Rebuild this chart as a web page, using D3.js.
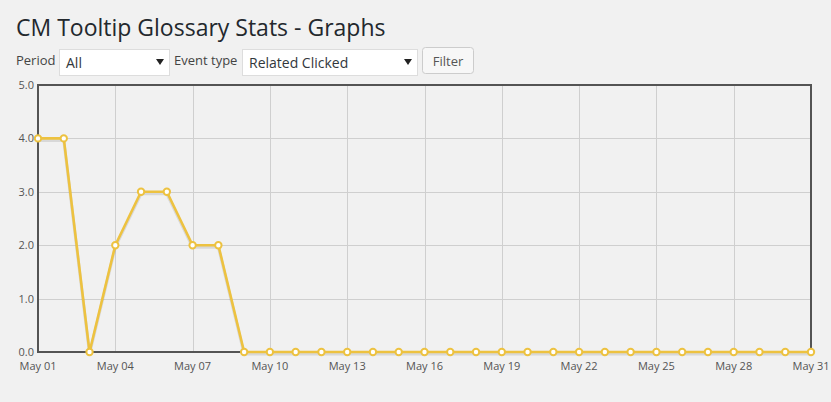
<!DOCTYPE html>
<html><head><meta charset="utf-8">
<script src="https://cdn.jsdelivr.net/npm/d3@7"></script>
<style>
html,body{margin:0;padding:0;background:#f1f1f1;}
svg{display:block;font-family:"Open Sans",sans-serif;}
</style></head>
<body><svg id="c" width="831" height="402"></svg>
<script>
const days = d3.range(1, 32);
const values = [4,4,0,2,3,3,2,2,0,0,0,0,0,0,0,0,0,0,0,0,0,0,0,0,0,0,0,0,0,0,0];
const yTicks = [0,1,2,3,4,5];
const xTickDays = [1,4,7,10,13,16,19,22,25,28,31];
const title = "CM Tooltip Glossary Stats - Graphs";
const periodLabel = "Period", periodValue = "All";
const eventLabel = "Event type", eventValue = "Related Clicked";
const buttonLabel = "Filter";

const svg = d3.select("#c");
const date = d => new Date(2015, 4, d);
const fmt = d3.timeFormat("%b %d");

const x = d3.scaleTime().domain([date(1), date(31)]).range([38, 811]);
const y = d3.scaleLinear().domain([0, 5]).range([352, 85]);

// title
svg.append("text").attr("x", 16).attr("y", 36).attr("font-size", 23).attr("fill", "#23282d").text(title);

// form controls
function select(xx, w, val){
  const g = svg.append("g");
  g.append("rect").attr("x", xx+0.5).attr("y", 49.5).attr("width", w).attr("height", 26).attr("fill", "#fff").attr("stroke", "#ddd");
  g.append("text").attr("x", xx+7).attr("y", 68).attr("font-size", 14).attr("fill", "#32373c").text(val);
  g.append("path").attr("d", `M${xx+w-13},${59}l8,0l-4,6z`).attr("fill", "#222");
}
svg.append("text").attr("x", 16).attr("y", 65).attr("font-size", 13).attr("fill", "#444").text(periodLabel);
select(59, 110, periodValue);
svg.append("text").attr("x", 174).attr("y", 65).attr("font-size", 13).attr("fill", "#444").text(eventLabel);
select(242, 175, eventValue);
svg.append("rect").attr("x", 422.5).attr("y", 47.5).attr("width", 51).attr("height", 26).attr("rx", 3).attr("fill", "#f7f7f7").attr("stroke", "#ccc");
svg.append("text").attr("x", 448).attr("y", 66).attr("text-anchor", "middle").attr("font-size", 13).attr("fill", "#555").text(buttonLabel);

// grid
const grid = svg.append("g").attr("stroke", "#cfcfcf").attr("stroke-width", 1);
xTickDays.forEach(d => {
  const xx = Math.round(x(date(d))) + 0.5;
  grid.append("line").attr("x1", xx).attr("x2", xx).attr("y1", y(5)).attr("y2", y(0));
});
yTicks.forEach(t => {
  const yy = Math.round(y(t)) + 0.5;
  grid.append("line").attr("x1", x(date(1))).attr("x2", x(date(31))).attr("y1", yy).attr("y2", yy);
});

// border
svg.append("rect").attr("x", x(date(1))).attr("y", y(5)).attr("width", x(date(31)) - x(date(1))).attr("height", y(0) - y(5))
  .attr("fill", "none").attr("stroke", "#545454").attr("stroke-width", 2);

// axis labels
svg.append("g").selectAll("text").data(yTicks).join("text")
  .attr("x", 34).attr("y", d => y(d) + 4).attr("text-anchor", "end").attr("font-size", 11).attr("fill", "#545454")
  .text(d => d.toFixed(1));
svg.append("g").selectAll("text").data(xTickDays).join("text")
  .attr("x", d => x(date(d))).attr("y", 370).attr("text-anchor", "middle").attr("font-size", 11).attr("fill", "#545454")
  .text(d => fmt(date(d)));

// line
const pts = days.map((d, i) => ({d, v: values[i]}));
const line = d3.line().x(p => x(date(p.d))).y(p => y(p.v));
svg.append("path").datum(pts).attr("d", line).attr("transform", "translate(0,2)").attr("fill", "none").attr("stroke", "rgba(0,0,0,0.1)").attr("stroke-width", 3);
svg.append("path").datum(pts).attr("d", line).attr("fill", "none").attr("stroke", "#edc240").attr("stroke-width", 2.6).attr("stroke-linejoin", "round");
svg.append("g").selectAll("circle").data(pts).join("circle")
  .attr("cx", p => x(date(p.d))).attr("cy", p => y(p.v)).attr("r", 3.2)
  .attr("fill", "#fff").attr("stroke", "#edc240").attr("stroke-width", 2);
</script></body></html>
